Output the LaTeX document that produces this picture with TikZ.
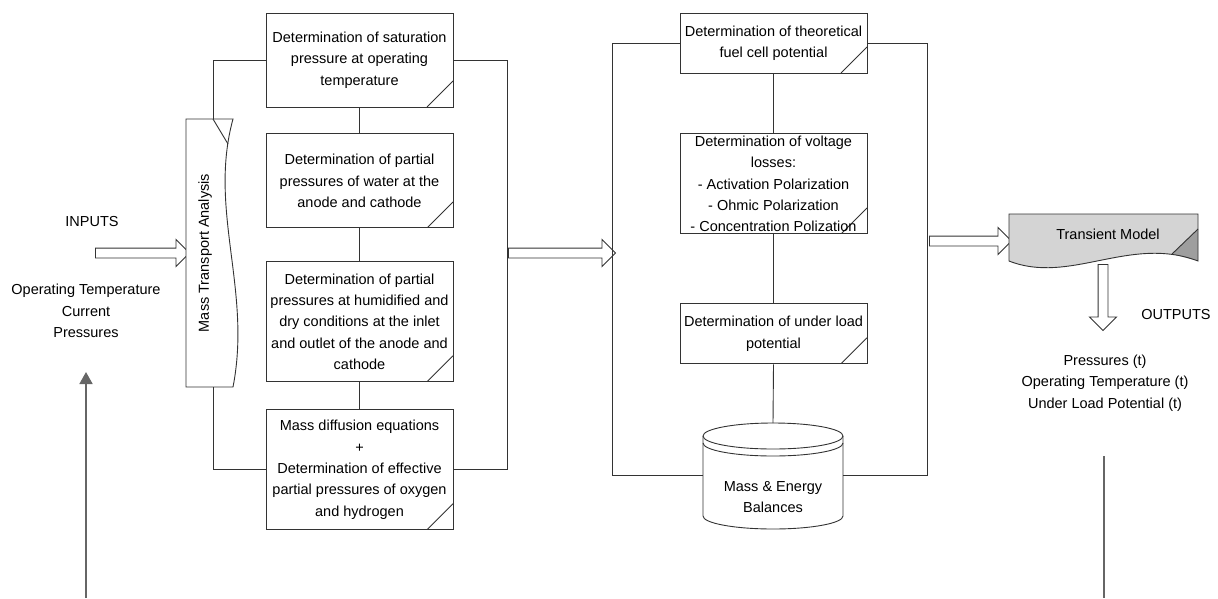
\documentclass[tikz,border=0pt]{standalone}
\usepackage{fontspec}
\setmainfont{Liberation Sans}
\usepackage{tikz}
\usetikzlibrary{arrows.meta,positioning,shapes.arrows}
\tikzset{
    %Define standard arrow tip
    >={Triangle[width=13pt,length=12pt]},
    %Define style for plain text
    lbl/.style={
           align=center, inner sep=0pt,
           font=\fontsize{14.5}{21.3}\selectfont},
    % Define line style
    wire/.style={
           draw=black!80,
           line width=0.9pt},
    % Define feedback style
    fback/.style={
           ->,
           draw=black!60,
           line width=1.8pt}
}

\begin{document}
\begin{tikzpicture}[x=1pt, y=-1pt, node distance=0pt]
	\tikzstyle{stage} = [rectangle, wire, lbl, minimum width=187pt, path picture={\draw[wire] ([xshift=-26pt]path picture bounding box.south east) -- ([yshift=26pt]path picture bounding box.south east);}]
	
	\tikzstyle{bigarrow} = [single arrow, wire, fill=white, inner xsep=0pt, inner ysep=4.5pt, single arrow head extend=8.5pt]

	\useasboundingbox (0,0) rectangle (1218,598);

	% Inputs
	\node[lbl](inputs) at (92,222){INPUTS};
	\node[lbl](inlist) at (86,311){Operating Temperature\\Current\\Pressures};
	\node[bigarrow, minimum height=94pt](inarr) at (140,253){};
	
	% Mass transport analysis
	\draw[wire, fill=white] (186,119) -- (233,119) .. controls (208,210) and (252,290) .. (233,387) -- (186,387) -- cycle;
	\draw[wire] (213,119) -- (228,144);
	\node[lbl, rotate=90](mta) at (205,253){Mass Transport Analysis};
	\coordinate (mtatop) at (213,119);
	\coordinate (mtabot) at (213,387);
	
	% Pressure stages
	\node[stage, minimum height=94pt](satur) at (359.5,60){Determination of saturation\\pressure at operating\\temperature};
	\node[stage, minimum height=94pt, below=26pt of satur](water){Determination of partial\\pressures of water at the\\anode and cathode};
	\node[stage, minimum height=120pt, below=33pt of water](humid){Determination of partial\\pressures at humidified and\\dry conditions at the inlet\\and outlet of the anode and\\cathode};
	\node[stage, minimum height=120pt, below=27pt of humid](diffus){Mass diffusion equations\\+\\Determination of effective\\partial pressures of oxygen\\and hydrogen};
	
	\path[wire] (satur) edge (water)
	            (water) edge (humid)
	            (humid) edge (diffus);
	\draw[wire] (satur.west) -| (mtatop);
	\draw[wire] (mtabot) |- (diffus.west);
	\draw[wire] (satur.east) -- ++(54,0) |- (diffus.east);
	
	\node[bigarrow, minimum height=107pt](midarr) at (559.5,253){};
	
	% Potential stages
	\node[stage, minimum height=60pt](theo) at (773.5,43){Determination of theoretical\\fuel cell potential};
	\node[stage, minimum height=100pt, below=60pt of theo](losses){Determination of voltage\\losses:\\- Activation Polarization\\- Ohmic Polarization\\- Concentration Polization};
	\node[stage, minimum height=60pt, below=69pt of losses](uload){Determination of under load\\potential};
	
	% Balances
	\draw[wire, fill=white] (703,436) -- (703,516) arc[start angle=180, end angle=360, x radius=70pt, y radius=13pt] -- (843,436) arc[start angle=0, end angle=180, x radius=70pt, y radius=13pt] -- cycle;
	\draw[wire] (703,436) arc[start angle=180, end angle=360, x radius=70pt, y radius=13pt];
	\draw[wire] (703,443) arc[start angle=180, end angle=360, x radius=70pt, y radius=13pt];
	\node[lbl](mebal) at (773,497){Mass \& Energy\\Balances};
	\coordinate (metop) at (773,423);
	\coordinate (meleft) at (703,475);
	\coordinate (meright) at (843,475);
	
	\path[wire] (theo) edge (losses)
	            (losses) edge (uload);
	\draw[wire] (uload.south) -- (metop);
	\draw[wire] (theo.west) -- ++(-67,0) |- (meleft);
	\draw[wire] (theo.east) -- ++(60,0) |- (meright);
	
	\node[bigarrow, minimum height=82pt](tmarr) at (968,241){};
	
	% Transient model
	\fill[black!17] (1009,214) -- (1198,214) -- (1198,261) .. controls (1130,235) and (1070,285) .. (1009,261) -- cycle;
	\fill[black!38] (1172,254) -- (1198,229) -- (1198,261) -- cycle;
	\draw[wire] (1009,214) -- (1198,214) -- (1198,261) .. controls (1130,235) and (1070,285) .. (1009,261) -- cycle;
	\draw[wire] (1172,254) -- (1198,229);
	\node[lbl](trans) at (1108,234){Transient Model};
	
	% Outputs
	\node[bigarrow, minimum height=66pt, rotate=-90](outarr) at (1103,295){};
	\node[lbl](outputs) at (1176,315){OUTPUTS};
	\node[lbl](outlist) at (1105,383){Pressures (t)\\Operating Temperature (t)\\Under Load Potential (t)};
	
	% Feedback
	\coordinate (fbin) at (86,598);
	\coordinate (fbtip) at (86,372);
	\coordinate (fbout) at (1104,456);
	\coordinate (fbend) at (1104,598);
	\draw[fback] (fbin) -- (fbtip);
	\draw[fback, -] (fbout) -- (fbend);

\end{tikzpicture}
\end{document}
